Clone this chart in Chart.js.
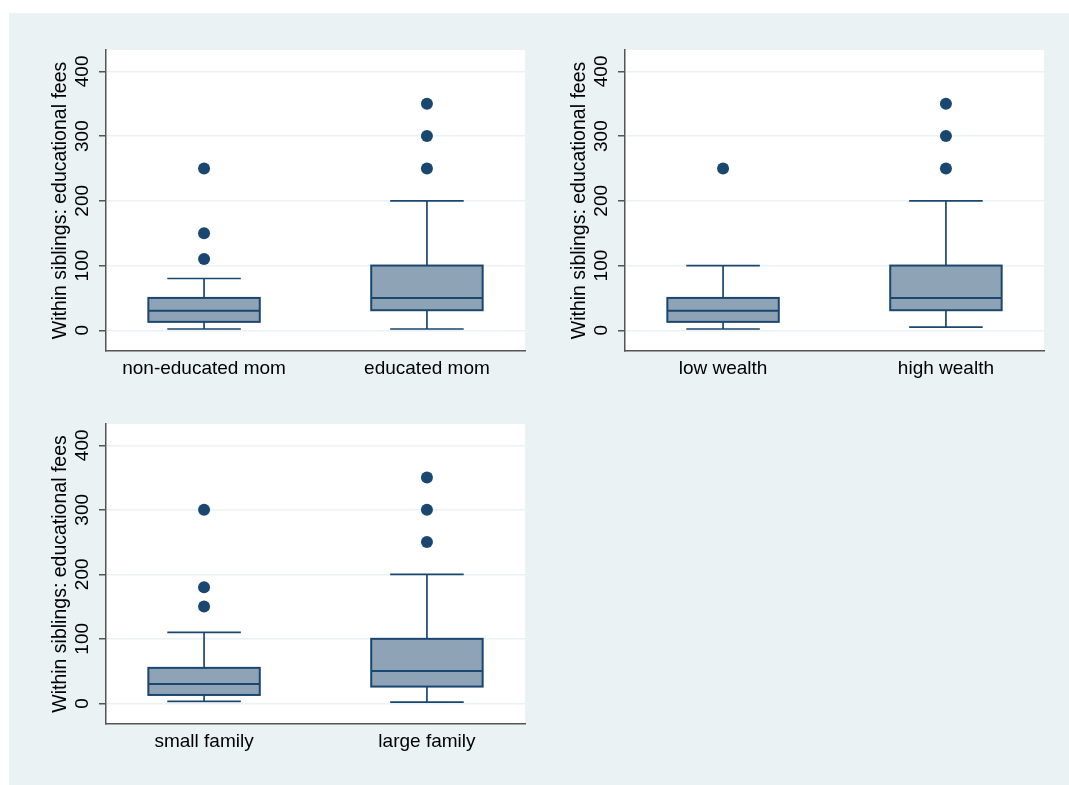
<!DOCTYPE html>
<html>
<head>
<meta charset="utf-8">
<script src="https://cdn.jsdelivr.net/npm/chart.js@4.4.1/dist/chart.umd.min.js"></script>
<style>
  html, body { margin: 0; padding: 0; background: #ffffff; }
  body { width: 1069px; height: 785px; position: relative; overflow: hidden; }
  #bg { position: absolute; left: 9px; top: 13px; width: 1060px; height: 772px; background: #eaf2f3; }
  canvas { position: absolute; }
</style>
</head>
<body>
<div id="bg"></div>
<canvas id="c1" width="520" height="360" style="left:30px;top:30px"></canvas>
<canvas id="c2" width="520" height="360" style="left:549px;top:30px"></canvas>
<canvas id="c3" width="520" height="359" style="left:30px;top:404px"></canvas>
<script>
// box plot values
const momLabels = ['non-educated mom', 'educated mom'];
const momLow = [2, 2];
const momQ1 = [13, 31];
const momMed = [30, 50];
const momQ3 = [50, 100];
const momHigh = [80, 200];
const momOutliers = [[110, 150, 250], [250, 300, 350]];

const wealthLabels = ['low wealth', 'high wealth'];
const wealthLow = [2, 5];
const wealthQ1 = [13, 31];
const wealthMed = [30, 50];
const wealthQ3 = [50, 100];
const wealthHigh = [100, 200];
const wealthOutliers = [[250], [250, 300, 350]];

const famLabels = ['small family', 'large family'];
const famLow = [3, 2];
const famQ1 = [13, 26];
const famMed = [30, 50];
const famQ3 = [55, 100];
const famHigh = [110, 200];
const famOutliers = [[150, 180, 300], [250, 300, 350]];

const yTicks = [0, 100, 200, 300, 400];
const yTitle = 'Within siblings: educational fees';

const NAVY = '#1a476f';
const BOX_FILL = '#8fa3b7';
const AXIS = '#555555';
const GRID = '#eaf2f3';
const FONT = "'Liberation Sans', Arial, Helvetica, sans-serif";

// white plot region
const plotBg = {
    id: 'plotBg',
    beforeDraw(chart) {
        const a = chart.chartArea;
        chart.ctx.save();
        chart.ctx.fillStyle = '#ffffff';
        chart.ctx.fillRect(a.left, a.top, a.right - a.left, a.bottom - a.top);
        chart.ctx.restore();
    }
};

// boxes + whiskers drawn through the chart scales
const boxPlot = {
    id: 'boxplot',
    beforeDatasetsDraw(chart, args, o) {
        const ctx = chart.ctx;
        const xs = chart.scales.x, ys = chart.scales.y;
        ctx.save();
        ctx.strokeStyle = NAVY;
        ctx.lineWidth = 1.7;
        for (let i = 0; i < o.med.length; i++) {
            const c = i + 1;
            const xc = xs.getPixelForValue(c);
            const bx0 = xs.getPixelForValue(c - 0.25), bx1 = xs.getPixelForValue(c + 0.25);
            const cx0 = xs.getPixelForValue(c - 0.165), cx1 = xs.getPixelForValue(c + 0.165);
            const yLow = ys.getPixelForValue(o.low[i]);
            const yQ1 = ys.getPixelForValue(o.q1[i]);
            const yMed = ys.getPixelForValue(o.med[i]);
            const yQ3 = ys.getPixelForValue(o.q3[i]);
            const yHigh = ys.getPixelForValue(o.high[i]);

            ctx.beginPath();
            ctx.moveTo(xc, yLow); ctx.lineTo(xc, yQ1);
            ctx.moveTo(xc, yQ3); ctx.lineTo(xc, yHigh);
            ctx.moveTo(cx0, yLow); ctx.lineTo(cx1, yLow);
            ctx.moveTo(cx0, yHigh); ctx.lineTo(cx1, yHigh);
            ctx.stroke();

            ctx.fillStyle = BOX_FILL;
            ctx.fillRect(bx0, yQ3, bx1 - bx0, yQ1 - yQ3);
            ctx.lineWidth = 2;
            ctx.strokeRect(bx0, yQ3, bx1 - bx0, yQ1 - yQ3);
            ctx.beginPath();
            ctx.moveTo(bx0, yMed); ctx.lineTo(bx1, yMed);
            ctx.stroke();
            ctx.lineWidth = 1.7;
        }
        ctx.restore();
    }
};

function makeChart(id, labels, low, q1, med, q3, high, outliers) {
    const pts = [];
    outliers.forEach((arr, i) => arr.forEach(v => pts.push({ x: i + 1, y: v })));

    return new Chart(document.getElementById(id), {
        type: 'scatter',
        data: {
            datasets: [{
                data: pts,
                pointRadius: 6,
                pointHoverRadius: 6,
                pointBackgroundColor: NAVY,
                pointBorderWidth: 0
            }]
        },
        options: {
            responsive: false,
            animation: false,
            events: [],
            layout: { padding: { top: 20, right: 25, left: 0, bottom: 0 } },
            plugins: {
                legend: { display: false },
                tooltip: { enabled: false },
                boxplot: { low, q1, med, q3, high }
            },
            scales: {
                x: {
                    type: 'linear',
                    min: 0.56,
                    max: 2.44,
                    afterBuildTicks: s => { s.ticks = labels.map((l, i) => ({ value: i + 1 })); },
                    afterFit: s => { s.height = 39; },
                    grid: { display: false, drawTicks: false },
                    border: { display: true, color: AXIS, width: 1.5 },
                    ticks: {
                        padding: 6,
                        maxRotation: 0,
                        color: '#000000',
                        font: { family: FONT, size: 19 },
                        callback: v => labels[v - 1]
                    }
                },
                y: {
                    min: -32,
                    max: 433,
                    afterBuildTicks: s => { s.ticks = yTicks.map(v => ({ value: v })); },
                    afterFit: s => { s.width = 76; },
                    grid: {
                        color: GRID,
                        lineWidth: 1.5,
                        drawTicks: true,
                        tickLength: 7,
                        tickColor: AXIS,
                        tickWidth: 1.5
                    },
                    border: { display: true, color: AXIS, width: 1.5 },
                    ticks: {
                        minRotation: 90,
                        maxRotation: 90,
                        crossAlign: 'center',
                        padding: 0,
                        color: '#000000',
                        font: { family: FONT, size: 19 }
                    },
                    title: {
                        display: true,
                        text: yTitle,
                        color: '#000000',
                        font: { family: FONT, size: 19.5 },
                        padding: { top: 19, bottom: 0 }
                    }
                }
            }
        },
        plugins: [plotBg, boxPlot]
    });
}

makeChart('c1', momLabels, momLow, momQ1, momMed, momQ3, momHigh, momOutliers);
makeChart('c2', wealthLabels, wealthLow, wealthQ1, wealthMed, wealthQ3, wealthHigh, wealthOutliers);
makeChart('c3', famLabels, famLow, famQ1, famMed, famQ3, famHigh, famOutliers);
</script>
</body>
</html>
